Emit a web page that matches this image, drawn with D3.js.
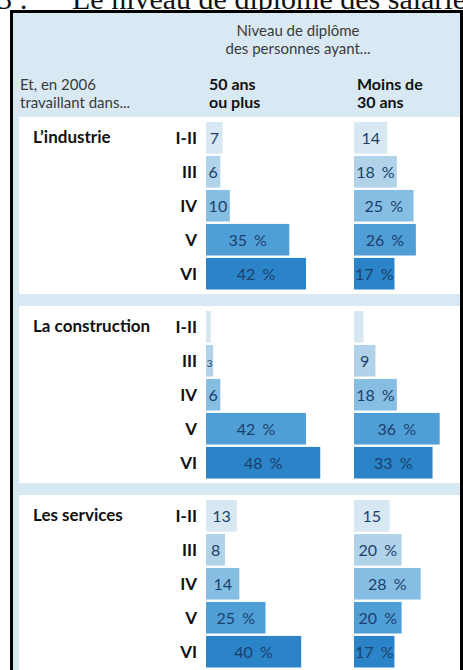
<!DOCTYPE html>
<html>
<head>
<meta charset="utf-8">
<script src="https://cdn.jsdelivr.net/npm/d3@7"></script>
<style>
  html, body { margin: 0; padding: 0; background: #fff; }
  svg { display: block; font-family: Lato, "Open Sans", sans-serif; }
</style>
</head>
<body>
<div id="chart"></div>
<script>
// ---- data ----
const sectors = ["L\u2019industrie", "La construction", "Les services"];
const levels = ["I-II", "III", "IV", "V", "VI"];
const groups = ["50 ans ou plus", "Moins de 30 ans"];
const industrieOld   = [7, 6, 10, 35, 42];
const industrieYoung = [14, 18, 25, 26, 17];
const constructionOld   = [2, 3, 6, 42, 48];
const constructionYoung = [4, 9, 18, 36, 33];
const servicesOld   = [13, 8, 14, 25, 40];
const servicesYoung = [15, 20, 28, 20, 17];
const industrieOldLabels   = ["7", "6", "10", "35 %", "42 %"];
const industrieYoungLabels = ["14", "18 %", "25 %", "26 %", "17 %"];
const constructionOldLabels   = ["", "3", "6", "42 %", "48 %"];
const constructionYoungLabels = ["", "9", "18 %", "36 %", "33 %"];
const servicesOldLabels   = ["13", "8", "14", "25 %", "40 %"];
const servicesYoungLabels = ["15", "20 %", "28 %", "20 %", "17 %"];

const panels = [
  { name: sectors[0], values: [industrieOld, industrieYoung], labels: [industrieOldLabels, industrieYoungLabels] },
  { name: sectors[1], values: [constructionOld, constructionYoung], labels: [constructionOldLabels, constructionYoungLabels] },
  { name: sectors[2], values: [servicesOld, servicesYoung], labels: [servicesOldLabels, servicesYoungLabels] }
];

// ---- layout ----
const W = 463, H = 670;
const levelColors = ["#d8e8f3", "#b0d3ea", "#86bee3", "#4f9fd6", "#2a84c7"];
const svg = d3.select("#chart").append("svg").attr("width", W).attr("height", H);

// title (clipped at top, as in the source)
const serif = "'Liberation Serif', 'DejaVu Serif', serif";
svg.append("text").attr("x", -3).attr("y", 9)
  .attr("font-family", serif).attr("font-size", 30).attr("fill", "#111")
  .text("3 :");
svg.append("text").attr("x", 72).attr("y", 9)
  .attr("font-family", serif).attr("font-size", 30).attr("fill", "#111")
  .text("Le niveau de diplôme des salariés");

// frame
svg.append("rect").attr("x", 11.5).attr("y", 11.5).attr("width", 450).attr("height", 700)
  .attr("fill", "#d8e9f4").attr("stroke", "#000").attr("stroke-width", 3);

// header
const hdr = svg.append("g").attr("fill", "#3a3a3a").attr("font-size", 15);
hdr.append("text").attr("x", 298).attr("y", 36).attr("text-anchor", "middle").text("Niveau de diplôme");
hdr.append("text").attr("x", 298).attr("y", 54).attr("text-anchor", "middle").text("des personnes ayant...");
hdr.append("text").attr("x", 20).attr("y", 90).text("Et, en 2006");
hdr.append("text").attr("x", 20).attr("y", 108).text("travaillant dans...");

const colX = d3.scaleOrdinal().domain(groups).range([206, 354]);
groups.forEach(g => {
  const words = g === groups[0] ? ["50 ans", "ou plus"] : ["Moins de", "30 ans"];
  words.forEach((w, i) => {
    svg.append("text").attr("x", colX(g) + 3).attr("y", 90 + i * 18)
      .attr("font-size", 16).attr("font-weight", 700).attr("fill", "#111").text(w);
  });
});

// scales
const panelY = d3.scaleBand().domain(sectors).range([117, 117 + 3 * 189]).paddingInner(0);
const x = d3.scaleLinear().domain([0, 50]).range([0, 119]);

panels.forEach(p => {
  const top = panelY(p.name);
  const g = svg.append("g");
  g.append("rect").attr("x", 19).attr("y", top).attr("width", 441).attr("height", 177).attr("fill", "#fff");
  const y = d3.scaleBand().domain(levels).range([top + 5, top + 5 + 5 * 33.5]).paddingInner(0.07).paddingOuter(0);
  const bw = y.bandwidth();

  g.append("text").attr("x", 33).attr("y", y(levels[0]) + bw / 2 + 5)
    .attr("font-size", 17).attr("font-weight", 700).attr("fill", "#111").text(p.name);

  levels.forEach(l => {
    g.append("text").attr("x", 197).attr("y", y(l) + bw / 2 + 6).attr("text-anchor", "end")
      .attr("font-size", 17).attr("font-weight", 700).attr("fill", "#111").text(l);
  });

  groups.forEach((grp, gi) => {
    const x0 = colX(grp);
    const vals = p.values[gi], labs = p.labels[gi];
    g.selectAll(null).data(vals).enter().append("rect")
      .attr("x", x0).attr("y", (d, i) => y(levels[i]))
      .attr("width", d => x(d)).attr("height", bw)
      .attr("fill", (d, i) => levelColors[i]);
    g.selectAll(null).data(vals).enter().append("text")
      .attr("x", d => x0 + x(d) / 2).attr("y", (d, i) => y(levels[i]) + bw / 2 + 6)
      .attr("text-anchor", "middle")
      .attr("font-size", d => d < 5 ? 10 : 16)
      .attr("fill", "#1c3f6e")
      .attr("word-spacing", 3)
      .text((d, i) => labs[i]);
  });
});
</script>
</body>
</html>
